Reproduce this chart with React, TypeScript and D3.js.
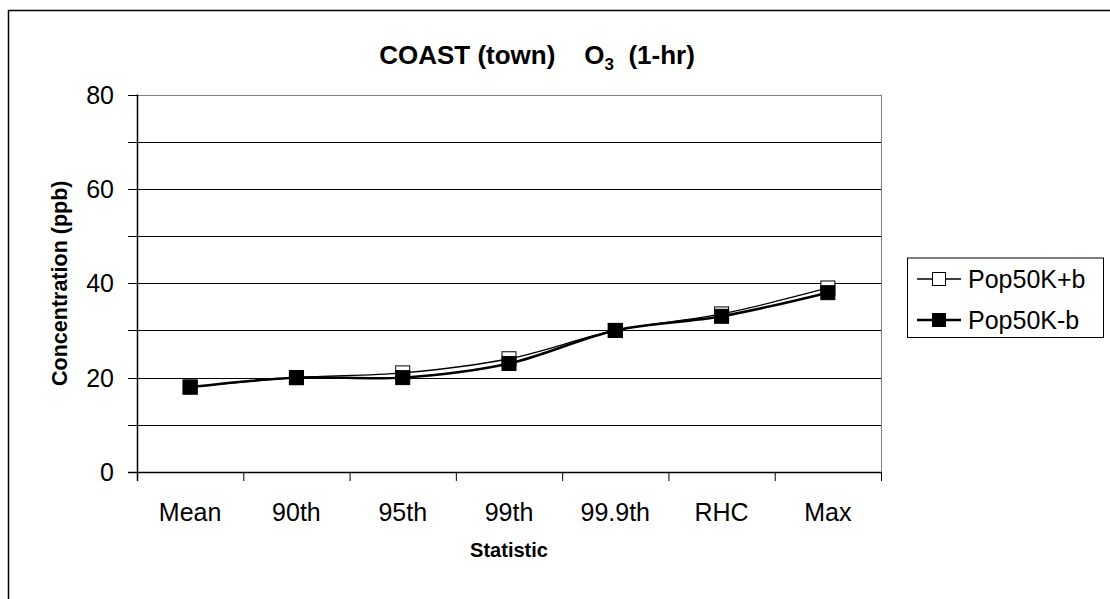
import React from "react";
import * as d3 from "d3";

// Chart data
const categories = ["Mean", "90th", "95th", "99th", "99.9th", "RHC", "Max"];
const popPlusB = [18, 20, 21, 24, 30, 33.5, 39];
const popMinusB = [18, 20, 20, 23, 30, 33, 38];
const yTickLabels = [0, 20, 40, 60, 80];
const yGridValues = [10, 20, 30, 40, 50, 60, 70, 80];
const seriesNames = ["Pop50K+b", "Pop50K-b"];

const W = 1110;
const H = 599;
const FONT = "'Liberation Sans', Arial, Helvetica, sans-serif";

const plot = { left: 137, right: 881, top: 94.5, bottom: 472 };

export default function App() {
  const x = d3
    .scaleBand<string>()
    .domain(categories)
    .range([plot.left, plot.right])
    .padding(0);
  const y = d3.scaleLinear().domain([0, 80]).range([plot.bottom, plot.top]);
  const cx = (c: string) => (x(c) as number) + x.bandwidth() / 2;

  // Smoothed series lines
  const line = d3
    .line<number>()
    .x((_, i) => cx(categories[i]))
    .y((d) => y(d))
    .curve(d3.curveCatmullRom.alpha(0));

  const boundaries = d3.range(categories.length + 1).map(
    (i) => plot.left + i * x.bandwidth()
  );

  const mk = 14;
  const legend = { x: 907.5, y: 258, w: 196, h: 79.5 };
  const legendRows = [279, 320];

  return (
    <svg
      width={W}
      height={H}
      style={{ position: "absolute", left: 0, top: 0, display: "block", background: "#fff" }}
      fontFamily={FONT}
    >
      {/* chart frame */}
      <path d={`M8.5,${H + 5} V10.5 H${W + 5}`} fill="none" stroke="#000" strokeWidth={1.5} />

      {/* gridlines */}
      {yGridValues.map((v) => (
        <line
          key={v}
          x1={plot.left}
          x2={plot.right}
          y1={Math.round(y(v)) + 0.5}
          y2={Math.round(y(v)) + 0.5}
          stroke={v === 80 ? "#808080" : "#000"}
          strokeWidth={1}
        />
      ))}
      {/* plot area right border */}
      <line x1={plot.right + 0.5} x2={plot.right + 0.5} y1={plot.top} y2={plot.bottom} stroke="#808080" />

      {/* y axis */}
      <line x1={plot.left + 0.5} x2={plot.left + 0.5} y1={plot.top} y2={plot.bottom + 9} stroke="#000" strokeWidth={1.5} />
      {[0, ...yGridValues].map((v) => (
        <line
          key={v}
          x1={plot.left - 9}
          x2={plot.left}
          y1={Math.round(y(v)) + 0.5}
          y2={Math.round(y(v)) + 0.5}
          stroke="#000"
        />
      ))}
      {yTickLabels.map((v) => (
        <text key={v} x={114} y={y(v) + 9} textAnchor="end" fontSize={25} fill="#000">
          {v}
        </text>
      ))}

      {/* x axis */}
      <line x1={plot.left - 9} x2={plot.right} y1={plot.bottom + 0.5} y2={plot.bottom + 0.5} stroke="#000" strokeWidth={1.5} />
      {boundaries.map((b, i) => (
        <line key={i} x1={b + 0.5} x2={b + 0.5} y1={plot.bottom} y2={plot.bottom + 9} stroke="#000" />
      ))}
      {categories.map((c) => (
        <text key={c} x={cx(c)} y={521} textAnchor="middle" fontSize={25} fill="#000">
          {c}
        </text>
      ))}

      {/* axis titles */}
      <text x={(plot.left + plot.right) / 2} y={557} textAnchor="middle" fontSize={20} fontWeight="bold">
        Statistic
      </text>
      <text
        transform={`translate(66.5,${(plot.top + plot.bottom) / 2}) rotate(-90)`}
        textAnchor="middle"
        fontSize={21.5}
        fontWeight="bold"
      >
        Concentration (ppb)
      </text>

      {/* title */}
      <text x={537} y={64} textAnchor="middle" fontSize={26} fontWeight="bold" style={{ whiteSpace: "pre" }}>
        <tspan>{"COAST (town)    O"}</tspan>
        <tspan fontSize={17} dy={6}>3</tspan>
        <tspan dy={-6}>{"  (1-hr)"}</tspan>
      </text>

      {/* series lines */}
      <path d={line(popPlusB) || ""} fill="none" stroke="#000" strokeWidth={1.3} />
      <path d={line(popMinusB) || ""} fill="none" stroke="#000" strokeWidth={2.5} />

      {/* markers */}
      {popPlusB.map((v, i) => (
        <rect
          key={"p" + i}
          x={cx(categories[i]) - mk / 2}
          y={y(v) - mk / 2}
          width={mk}
          height={mk}
          fill="#fff"
          stroke="#000"
          strokeWidth={1}
        />
      ))}
      {popMinusB.map((v, i) => (
        <rect
          key={"m" + i}
          x={cx(categories[i]) - mk / 2}
          y={y(v) - mk / 2}
          width={mk}
          height={mk}
          fill="#000"
          stroke="#000"
          strokeWidth={1}
        />
      ))}

      {/* legend */}
      <rect x={legend.x} y={legend.y} width={legend.w} height={legend.h} fill="#fff" stroke="#000" strokeWidth={1} />
      {seriesNames.map((name, i) => {
        const ly = legendRows[i];
        return (
          <g key={name}>
            <line x1={917} x2={961} y1={ly} y2={ly} stroke="#000" strokeWidth={i === 0 ? 1.3 : 2.5} />
            <rect
              x={939 - 6.5}
              y={ly - 6.5}
              width={13}
              height={13}
              fill={i === 0 ? "#fff" : "#000"}
              stroke="#000"
            />
            <text x={968} y={ly + 9} fontSize={25} fill="#000">
              {name}
            </text>
          </g>
        );
      })}
    </svg>
  );
}
